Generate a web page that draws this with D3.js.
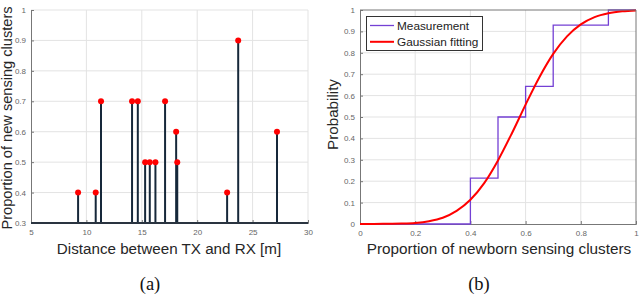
<!DOCTYPE html>
<html>
<head>
<meta charset="utf-8">
<script src="https://cdn.jsdelivr.net/npm/d3@7/dist/d3.min.js"></script>
<style>
  body { margin: 0; background: #fff; }
  svg { display: block; font-family: 'Liberation Sans', Arial, sans-serif; }
  .grid line { stroke: #e3e3e3; stroke-width: 1; }
  .tick text { fill: #666; font-size: 8px; }
</style>
</head>
<body>
<div id="chart"></div>
<script>
// (a) stem plot: distance vs. proportion
const distances = [9.25, 10.84, 11.32, 14.12, 14.64, 15.3, 15.72, 16.23, 17.1, 18.1, 18.2, 22.7, 23.7, 27.2];
const proportions = [0.4, 0.4, 0.7, 0.7, 0.7, 0.5, 0.5, 0.5, 0.7, 0.6, 0.5, 0.4, 0.9, 0.6];
const aTicksX = [5, 10, 15, 20, 25, 30];
const aTicksY = [0.3, 0.4, 0.5, 0.6, 0.7, 0.8, 0.9, 1];

const stepX = [0, 0.4, 0.4, 0.5, 0.5, 0.6, 0.6, 0.7, 0.7, 0.9, 0.9, 1];
const stepY = [0, 0, 0.214, 0.214, 0.5, 0.5, 0.643, 0.643, 0.929, 0.929, 1, 1];
const fitX = [0, 0.05, 0.1, 0.15, 0.2, 0.25, 0.3, 0.35, 0.4, 0.45, 0.5, 0.55, 0.6, 0.65, 0.7, 0.75, 0.8, 0.85, 0.9, 0.95, 1];
const fitY = [0, 0, 0.001, 0.002, 0.005, 0.013, 0.029, 0.061, 0.113, 0.191, 0.297, 0.423, 0.558, 0.686, 0.795, 0.877, 0.933, 0.967, 0.985, 0.994, 0.998];
const bTicksX = [0, 0.2, 0.4, 0.6, 0.8, 1];
const bTicksY = [0, 0.1, 0.2, 0.3, 0.4, 0.5, 0.6, 0.7, 0.8, 0.9, 1];

const AXIS = '#777';
const svg = d3.select('#chart').append('svg').attr('width', 640).attr('height', 294);

function styleAxis(g) {
  g.select('.domain').attr('stroke', AXIS);
  g.selectAll('.tick line').attr('stroke', AXIS);
}

// ---------- panel (a) ----------
const A = { left: 31, right: 308, top: 10, bottom: 223 };
const xa = d3.scaleLinear().domain([5, 30]).range([A.left, A.right]);
const ya = d3.scaleLinear().domain([0.3, 1]).range([A.bottom, A.top]);
const ga = svg.append('g');

ga.append('g').attr('class', 'grid')
  .selectAll('line.v').data(aTicksX.slice(1)).join('line')
  .attr('x1', d => xa(d)).attr('x2', d => xa(d)).attr('y1', A.top).attr('y2', A.bottom);
ga.append('g').attr('class', 'grid')
  .selectAll('line.h').data(aTicksY.slice(1)).join('line')
  .attr('x1', A.left).attr('x2', A.right).attr('y1', d => ya(d)).attr('y2', d => ya(d));

ga.append('g').attr('transform', 'translate(0,' + A.bottom + ')')
  .call(d3.axisBottom(xa).tickValues(aTicksX).tickSize(-3).tickPadding(6).tickFormat(d3.format('d')))
  .call(styleAxis);
ga.append('g').attr('transform', 'translate(' + A.left + ',0)')
  .call(d3.axisLeft(ya).tickValues(aTicksY).tickSize(-3).tickPadding(5).tickFormat(d => d === 1 ? '1' : d3.format('.1f')(d)))
  .call(styleAxis);

// stems
ga.selectAll('line.stem').data(distances).join('line')
  .attr('class', 'stem')
  .attr('x1', d => xa(d)).attr('x2', d => xa(d))
  .attr('y1', ya(0.3)).attr('y2', (d, i) => ya(proportions[i]))
  .attr('stroke', '#16283a').attr('stroke-width', 2);
// baseline
ga.append('line').attr('x1', A.left).attr('x2', A.right)
  .attr('y1', A.bottom).attr('y2', A.bottom)
  .attr('stroke', '#2a3440').attr('stroke-width', 2);
ga.selectAll('circle.dot').data(distances).join('circle')
  .attr('class', 'dot')
  .attr('cx', d => xa(d)).attr('cy', (d, i) => ya(proportions[i]))
  .attr('r', 3).attr('fill', '#ff0000');

ga.append('text').attr('x', 169).attr('y', 254).attr('text-anchor', 'middle')
  .attr('font-size', 15.2).attr('fill', '#262626').text('Distance between TX and RX [m]');
ga.append('text').attr('transform', 'translate(12,118) rotate(-90)').attr('text-anchor', 'middle')
  .attr('font-size', 14.6).attr('fill', '#262626').text('Proportion of new sensing clusters');
ga.append('text').attr('x', 150).attr('y', 290).attr('text-anchor', 'middle')
  .attr('font-family', "'Liberation Serif', 'Times New Roman', serif")
  .attr('font-size', 18.5).attr('fill', '#111').text('(a)');

// ---------- panel (b) ----------
const B = { left: 360, right: 636, top: 10, bottom: 224 };
const xb = d3.scaleLinear().domain([0, 1]).range([B.left, B.right]);
const yb = d3.scaleLinear().domain([0, 1]).range([B.bottom, B.top]);
const gb = svg.append('g');

gb.append('g').attr('class', 'grid')
  .selectAll('line').data(bTicksX.slice(1, -1)).join('line')
  .attr('x1', d => xb(d)).attr('x2', d => xb(d)).attr('y1', B.top).attr('y2', B.bottom);
gb.append('g').attr('class', 'grid')
  .selectAll('line').data(bTicksY.slice(1, -1)).join('line')
  .attr('x1', B.left).attr('x2', B.right).attr('y1', d => yb(d)).attr('y2', d => yb(d));

gb.append('g').attr('transform', 'translate(0,' + B.bottom + ')')
  .call(d3.axisBottom(xb).tickValues(bTicksX).tickSize(-3).tickPadding(6).tickFormat(d => d === 0 || d === 1 ? d : d3.format('.1f')(d)))
  .call(styleAxis);
gb.append('g').attr('transform', 'translate(' + B.left + ',0)')
  .call(d3.axisLeft(yb).tickValues(bTicksY).tickSize(-3).tickPadding(5).tickFormat(d => d === 0 || d === 1 ? d : d3.format('.1f')(d)))
  .call(styleAxis);

const stepLine = d3.line().x(d => xb(d[0])).y(d => yb(d[1]));
gb.append('path').datum(stepX.map((x, i) => [x, stepY[i]]))
  .attr('d', stepLine).attr('fill', 'none').attr('stroke', '#7440d4').attr('stroke-width', 1.3);
const fitLine = d3.line().x(d => xb(d[0])).y(d => yb(d[1])).curve(d3.curveMonotoneX);
gb.append('path').datum(fitX.map((x, i) => [x, fitY[i]]))
  .attr('d', fitLine).attr('fill', 'none').attr('stroke', '#ff0000').attr('stroke-width', 2);

// box top/right
gb.append('path').attr('d', `M${B.left},${B.top}H${B.right}V${B.bottom}`)
  .attr('fill', 'none').attr('stroke', AXIS);

// legend
const lg = gb.append('g');
lg.append('rect').attr('x', 366.5).attr('y', 16.5).attr('width', 116).attr('height', 34)
  .attr('fill', '#fff').attr('stroke', '#333');
const legendItems = [['Measurement', '#7440d4', 1.3], ['Gaussian fitting', '#ff0000', 2]];
legendItems.forEach((it, i) => {
  const y = 25.5 + i * 16.3;
  lg.append('line').attr('x1', 370).attr('x2', 394).attr('y1', y).attr('y2', y)
    .attr('stroke', it[1]).attr('stroke-width', it[2]);
  lg.append('text').attr('x', 397).attr('y', y + 4.3).attr('font-size', 11.8).attr('fill', '#222').text(it[0]);
});

gb.append('text').attr('x', 499).attr('y', 254).attr('text-anchor', 'middle')
  .attr('font-size', 15.3).attr('fill', '#262626').text('Proportion of newborn sensing clusters');
gb.append('text').attr('transform', 'translate(338,114.5) rotate(-90)').attr('text-anchor', 'middle')
  .attr('font-size', 15.2).attr('fill', '#262626').text('Probability');
gb.append('text').attr('x', 479).attr('y', 290).attr('text-anchor', 'middle')
  .attr('font-family', "'Liberation Serif', 'Times New Roman', serif")
  .attr('font-size', 18.5).attr('fill', '#111').text('(b)');
</script>
</body>
</html>
